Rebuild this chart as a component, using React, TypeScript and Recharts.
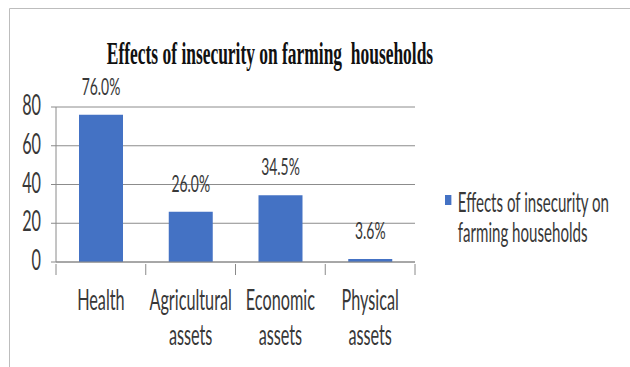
import React from 'react';
import { BarChart, Bar, XAxis, YAxis, CartesianGrid, Legend, LabelList } from 'recharts';

const categories = [['Health'], ['Agricultural', 'assets'], ['Economic', 'assets'], ['Physical', 'assets']];
const values = [76, 26, 34.5, 1.5];
const valueLabels = ['76.0%', '26.0%', '34.5%', '3.6%'];
const yTicks = [0, 20, 40, 60, 80];
const seriesName = 'Effects of insecurity on farming households';
const legendLines = ['Effects of insecurity on', 'farming households'];
const title = 'Effects of insecurity on farming  households';

const data = categories.map((c, i) => ({ name: c.join(' '), lines: c, value: values[i], label: valueLabels[i] }));

const SX = 0.58;
const FONT = 'Lato, sans-serif';
const TXT = '#383838';
const BAND = 89.75;

const XTick = (props: any) => {
  const { x, y, index, payload } = props;
  const lines: string[] = data[index ?? payload.index]?.lines ?? [String(payload.value)];
  const left = x - BAND / 2;
  return (
    <g>
      <line x1={left} x2={left} y1={y} y2={y + 11} stroke="#8a8a8a" />
      {index === data.length - 1 && <line x1={x + BAND / 2} x2={x + BAND / 2} y1={y} y2={y + 11} stroke="#8a8a8a" />}
      {lines.map((l, i) => (
        <text key={i} transform={`translate(${x},${y + 46 + i * 35}) scale(${SX},1)`} textAnchor="middle" fontSize={28} fontFamily={FONT} fill={TXT}>
          {l}
        </text>
      ))}
    </g>
  );
};

const YTick = (props: any) => {
  const { y, payload } = props;
  return (
    <text transform={`translate(41,${y + 8}) scale(${SX},1)`} textAnchor="end" fontSize={28} fontFamily={FONT} fill={TXT}>
      {payload.value}
    </text>
  );
};

const ValueLabel = (props: any) => {
  const { x, y, width, index } = props;
  return (
    <text transform={`translate(${x + width / 2},${y - 20}) scale(${SX},1)`} textAnchor="middle" fontSize={24} fontFamily={FONT} fill={TXT}>
      {data[index].label}
    </text>
  );
};

const LegendBox = () => (
  <div style={{ position: 'absolute', left: 445, top: 187, width: 300, transform: `scaleX(${SX})`, transformOrigin: '0 0', fontFamily: FONT, fontSize: 26, lineHeight: '30px', color: TXT, whiteSpace: 'nowrap' }}>
    <span style={{ position: 'absolute', left: 0, top: 8, width: 11, height: 10, background: '#4472C4' }} />
    {legendLines.map((l, i) => (
      <div key={i} style={{ marginLeft: 22 }}>{l}</div>
    ))}
  </div>
);

export default function App() {
  return (
    <div style={{ position: 'absolute', left: 0, top: 0, width: 630, height: 367, background: '#fff' }}>
      <BarChart width={630} height={367} data={data} margin={{ top: 107, right: 215, bottom: 45, left: 10 }} barSize={44}>
        <path d="M9.5 367 V8.5 H630" stroke="#bdbdbd" fill="none" />
        <text transform="translate(270,64) scale(0.545,1)" textAnchor="middle" fontSize={32} fontWeight="bold" fontFamily="'Liberation Serif', serif" fill="#111" style={{ whiteSpace: 'pre' }}>
          {title}
        </text>
        <CartesianGrid vertical={false} stroke="#8c8c8c" />
        <XAxis dataKey="name" height={60} interval={0} tickSize={0} tickLine={false} axisLine={{ stroke: '#8a8a8a' }} tick={<XTick />} />
        <YAxis width={46} domain={[0, 80]} ticks={yTicks} tickSize={5} axisLine={{ stroke: '#8a8a8a' }} tickLine={{ stroke: '#8a8a8a' }} tick={<YTick />} />
        <Legend content={<LegendBox />} wrapperStyle={{ position: 'absolute', left: 0, top: 0, width: 0, height: 0 }} />
        <Bar dataKey="value" name={seriesName} fill="#4472C4" isAnimationActive={false}>
          <LabelList dataKey="label" content={<ValueLabel />} />
        </Bar>
      </BarChart>
    </div>
  );
}
